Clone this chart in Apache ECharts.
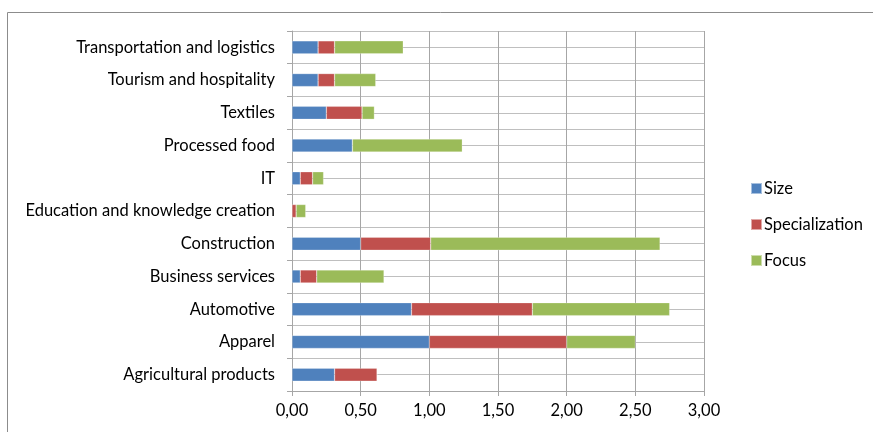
<!DOCTYPE html>
<html><head><meta charset="utf-8">
<script src="https://cdn.jsdelivr.net/npm/echarts@6/dist/echarts.min.js"></script>
<style>html,body{margin:0;padding:0;background:#fff}#c{width:873px;height:432px}</style>
</head><body><div id="c"></div>
<script>
const categories = ["Agricultural products","Apparel","Automotive","Business services","Construction","Education and knowledge creation","IT","Processed food","Textiles","Tourism and hospitality","Transportation and logistics"];
const sizeVals = [0.31, 1.00, 0.87, 0.06, 0.50, 0.00, 0.06, 0.44, 0.25, 0.19, 0.19];
const specVals = [0.31, 1.00, 0.88, 0.12, 0.51, 0.03, 0.09, 0.00, 0.26, 0.12, 0.12];
const focusVals = [0.00, 0.50, 1.00, 0.49, 1.67, 0.07, 0.08, 0.80, 0.09, 0.30, 0.50];
const seriesNames = ["Size","Specialization","Focus"];
const colors = ["#4F81BD","#C0504D","#9BBB59"];
const FONT = "Lato";
const FS = 16.5;
const chart = echarts.init(document.getElementById('c'));
const mk = (name, data, i) => ({
  name, type:'bar', stack:'t', data, barWidth:13, yAxisIndex:0,
  itemStyle:{color:colors[i], borderColor:'rgba(255,255,255,0.5)', borderWidth:0.5},
  silent:true
});
chart.setOption({
  animation:false,
  textStyle:{fontFamily:FONT},
  graphic:[{type:'rect', left:5, top:10, shape:{width:900,height:500}, style:{fill:'none', stroke:'#8c8c8c', lineWidth:1}, silent:true}],
  grid:{left:292, right:169, top:31, bottom:41},
  legend:{orient:'vertical', left:745, top:175, itemWidth:11, itemHeight:11, itemGap:19, icon:'rect',
    textStyle:{fontFamily:FONT, fontSize:FS, color:'#000', padding:[0,0,0,-3]}, data:seriesNames},
  xAxis:{type:'value', min:0, max:3, interval:0.5,
    axisLabel:{fontFamily:FONT, fontSize:FS, color:'#000', margin:11, formatter:v=>v.toFixed(2).replace('.',',')},
    axisLine:{show:true, lineStyle:{color:'#a6a6a6'}},
    axisTick:{show:true, length:5, lineStyle:{color:'#a6a6a6'}},
    splitLine:{show:true, lineStyle:{color:'#a6a6a6'}}},
  yAxis:[{type:'category', data:categories,
    axisLabel:{fontFamily:FONT, fontSize:FS, color:'#000', margin:17},
    axisLine:{show:true, lineStyle:{color:'#a6a6a6'}},
    axisTick:{show:true, length:5, lineStyle:{color:'#a6a6a6'}},
    splitLine:{show:false}},
   {type:'value', min:0, max:11, interval:0.5, position:'right',
    axisLabel:{show:false}, axisLine:{show:false}, axisTick:{show:false},
    splitLine:{show:true, lineStyle:{color:'#bfbfbf'}}}],
  series:[mk(seriesNames[0], sizeVals,0), mk(seriesNames[1], specVals,1), mk(seriesNames[2], focusVals,2)]
});
</script></body></html>
